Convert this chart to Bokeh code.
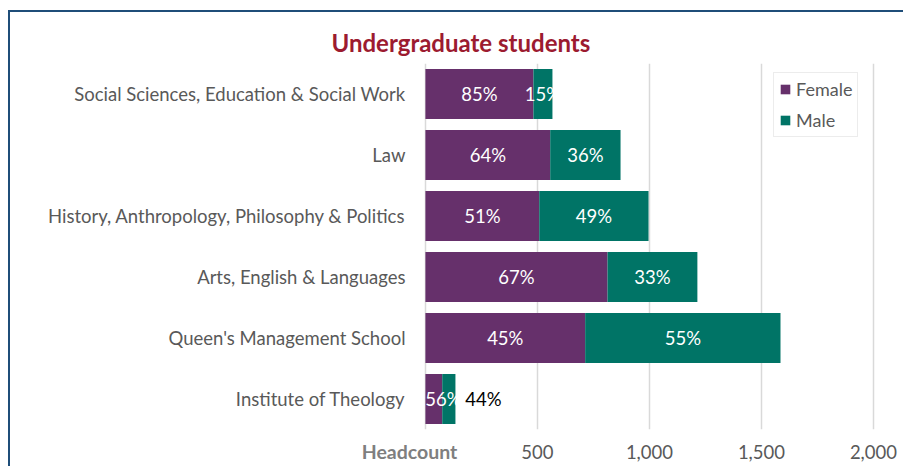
from bokeh.plotting import figure
from bokeh.models import (ColumnDataSource, FactorRange, Range1d, FixedTicker,
                          NumeralTickFormatter, LinearAxis)
from bokeh.core.properties import value
from bokeh.embed import file_html
from bokeh.resources import INLINE

categories = ["Social Sciences, Education & Social Work", "Law",
              "History, Anthropology, Philosophy & Politics", "Arts, English & Languages",
              "Queen's Management School", "Institute of Theology"]
female = [482, 557, 508, 813, 713, 75]
male = [85, 314, 488, 401, 872, 59]
female_pct = ["85%", "64%", "51%", "67%", "45%", "56%"]
male_pct = ["15%", "36%", "49%", "33%", "55%", "44%"]
male_inside = [True, True, True, True, True, False]
x_ticks = [0, 500, 1000, 1500, 2000]
axis_title = "Headcount"

FEMALE_C = "#66306B"
MALE_C = "#007466"
FONT = "Lato"
HC_POS = -71  # where the axis title sits, in axis units

# canvas placed at (10, 12) on the page (left/top border drawn by CSS)
W, H = 895, 456
p = figure(width=W, height=H, output_backend="svg", toolbar_location=None,
           y_range=FactorRange(factors=list(reversed(categories)), range_padding=0),
           x_range=Range1d(-80, 2143),
           min_border_left=397, min_border_right=0, min_border_top=51, min_border_bottom=39,
           styles={"margin-left": "8px", "margin-top": "10px",
                   "border-left": "2px solid #1F4E79", "border-top": "2px solid #1F4E79"})
p.outline_line_color = None

p.title.text = "Undergraduate students"
p.title.align = "left"
p.title.offset = -76
p.title.standoff = 13
p.title.text_font = FONT
p.title.text_font_style = "bold"
p.title.text_font_size = "24px"
p.title.text_color = "#9C1B30"

src = ColumnDataSource(dict(cat=categories, Female=female, Male=male))
p.hbar_stack(["Female", "Male"], y="cat", height=0.82, color=[FEMALE_C, MALE_C],
             line_color=None, source=src, legend_label=["Female", "Male"])

fx_in, fcat_in, flab_in = [], [], []
mx_in, mcat_in, mlab_in = [], [], []
mx_out, mcat_out, mlab_out = [], [], []
for c, f, m, fl, ml, inside in zip(categories, female, male, female_pct, male_pct, male_inside):
    if inside:
        fx_in.append(f / 2); fcat_in.append(c); flab_in.append(fl)
        mx_in.append(f + m / 2); mcat_in.append(c); mlab_in.append(ml)
    else:
        fx_in.append((f + m) * 0.6); fcat_in.append(c); flab_in.append(fl)
        mx_out.append(f + m + 125); mcat_out.append(c); mlab_out.append(ml)

p.text(x=fx_in, y=fcat_in, text=flab_in, text_color="white", text_align="center",
       text_baseline="middle", text_font=value(FONT), text_font_size="18.5px")
p.text(x=mx_in, y=mcat_in, text=mlab_in, text_color="white", text_align="center",
       text_baseline="middle", text_font=value(FONT), text_font_size="18.5px")
p.text(x=mx_out, y=mcat_out, text=mlab_out, text_color="black", text_align="center",
       text_baseline="middle", text_font=value(FONT), text_font_size="18.5px")

# x axis with tick labels
p.xaxis.ticker = FixedTicker(ticks=x_ticks)
p.xaxis.formatter = NumeralTickFormatter(format="0,0")
p.xaxis.major_label_overrides = {0: ""}
p.xaxis.axis_line_color = None
p.xaxis.major_tick_line_color = None
p.xaxis.minor_tick_line_color = None
p.xaxis.major_label_text_font = FONT
p.xaxis.major_label_text_font_size = "18.5px"
p.xaxis.major_label_text_color = "#595959"
p.xaxis.major_label_standoff = 9

# second (outer) axis only carrying the bold axis title, pulled up onto the tick-label line
ax2 = LinearAxis(ticker=FixedTicker(ticks=[HC_POS]),
                 major_label_overrides={HC_POS: axis_title})
ax2.axis_line_color = None
ax2.major_tick_line_color = None
ax2.minor_tick_line_color = None
ax2.major_label_text_font = FONT
ax2.major_label_text_font_style = "bold"
ax2.major_label_text_font_size = "19.5px"
ax2.major_label_text_color = "#7F7F7F"
ax2.major_label_standoff = -28
p.add_layout(ax2, "below")

p.yaxis.axis_line_color = None
p.yaxis.major_tick_line_color = None
p.yaxis.major_label_text_font = FONT
p.yaxis.major_label_text_font_size = "18.5px"
p.yaxis.major_label_text_color = "#595959"
p.yaxis.major_label_standoff = -4

p.ygrid.grid_line_color = None
p.xgrid.ticker = FixedTicker(ticks=x_ticks)
p.xgrid.grid_line_color = "#D9D9D9"
p.xgrid.grid_line_width = 1.5

lg = p.legend[0]
lg.location = (366, 292)
lg.label_text_font = FONT
lg.label_text_font_size = "18px"
lg.label_text_color = "#595959"
lg.glyph_width = 12
lg.glyph_height = 12
lg.spacing = 9
lg.padding = 5
lg.label_height = 20
lg.border_line_color = "#D9D9D9"
lg.border_line_width = 1.5
lg.background_fill_color = "white"
lg.background_fill_alpha = 1

open("out.html", "w").write(file_html(p, INLINE))
